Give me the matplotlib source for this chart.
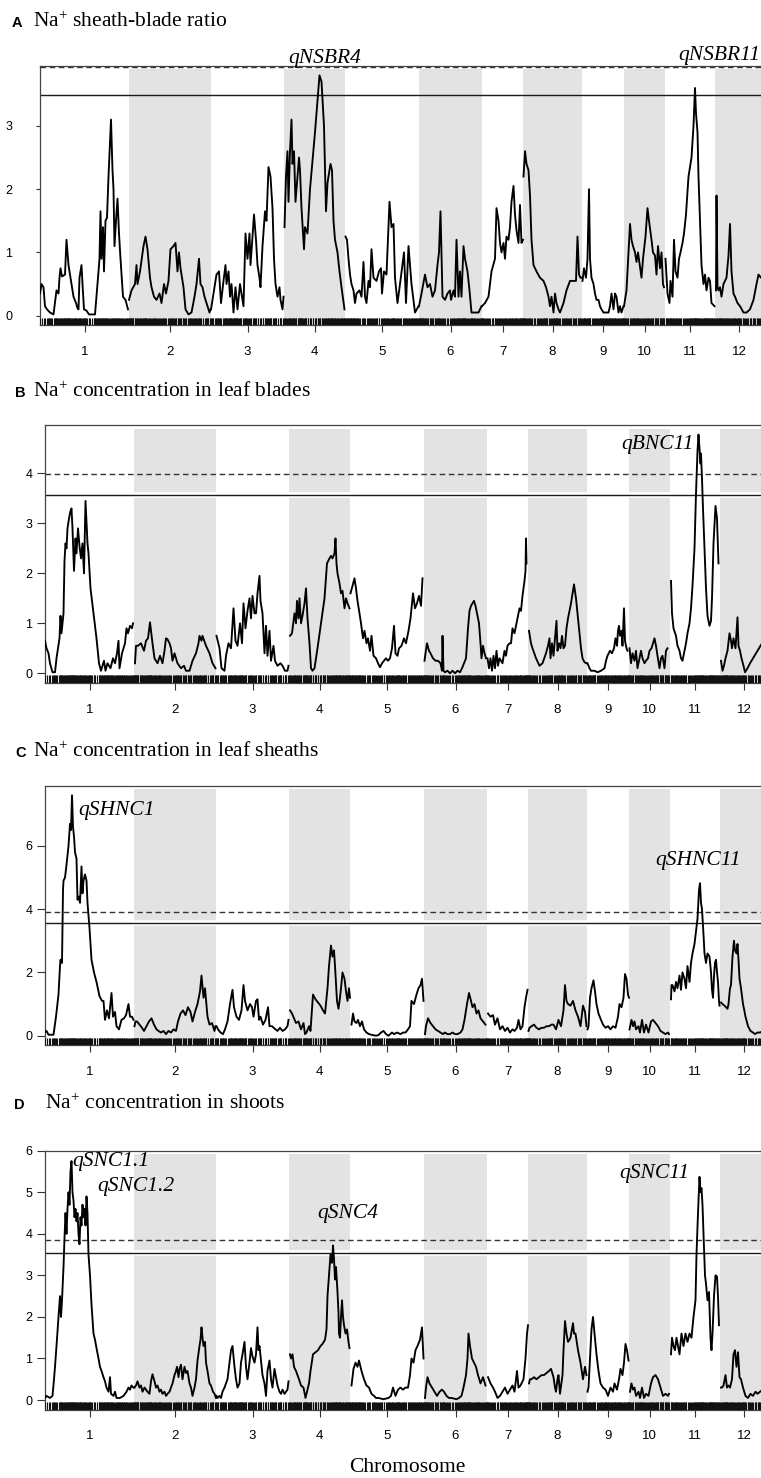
import numpy as np
import matplotlib.pyplot as plt

plt.rcParams['font.family'] = ['Liberation Sans', 'DejaVu Sans']
plt.rcParams['mathtext.fontset'] = 'custom'
plt.rcParams['mathtext.rm'] = 'Liberation Serif'
plt.rcParams['mathtext.it'] = 'Liberation Serif:italic'

chromosomes = [str(i) for i in range(1, 13)]
chrom_len = [178, 164, 146, 122, 148, 126, 82, 118, 84, 82, 100, 96]  # cM

# LOD profiles: one list of (cM, LOD) per chromosome
# A  Na+ sheath-blade ratio
sbr_lod = [
    [(0, 0.35), (3, 0.5), (7, 0.45), (10, 0.15), (14, 0.1), (20, 0.05), (27, 0.02), (33, 0.4), (37, 0.35), (39, 0.6),
     (41, 0.75), (44, 0.62), (50, 0.65), (53, 1.2), (57, 0.8), (60, 0.65), (63, 0.5), (67, 0.3), (72, 0.2), (75, 0.12),
     (77, 0.1), (79, 0.6), (83, 0.8), (85, 0.5), (88, 0.1), (93, 0.08), (98, 0.02), (110, 0.02), (116, 0.6), (119, 0.9),
     (121, 1.65), (123, 0.9), (126, 1.4), (128, 0.7), (131, 1.5), (134, 1.55), (137, 2.2), (142, 3.1), (145, 2.3),
     (147, 2.0), (149, 1.1), (152, 1.5), (155, 1.85), (158, 1.3), (161, 0.9), (166, 0.3), (171, 0.25), (176, 0.1)],
    [(0, 0.25), (5, 0.4), (12, 0.5), (15, 0.8), (17, 0.5), (22, 0.7), (29, 1.1), (33, 1.25), (37, 1.05), (42, 0.6),
     (45, 0.45), (50, 0.3), (55, 0.25), (61, 0.35), (65, 0.2), (70, 0.5), (74, 0.35), (79, 0.55), (83, 1.05), (89, 1.1),
     (93, 1.15), (97, 0.7), (100, 1.0), (103, 0.75), (109, 0.45), (113, 0.1), (119, 0.02), (125, 0.05), (131, 0.3),
     (135, 0.5), (140, 0.9), (143, 0.5), (147, 0.45), (151, 0.3), (155, 0.2), (161, 0.05), (163, 0.1)],
    [(0, 0.1), (11, 0.65), (16, 0.7), (20, 0.2), (25, 0.55), (29, 0.8), (31, 0.5), (35, 0.7), (38, 0.3), (41, 0.5),
     (45, 0.05), (49, 0.45), (53, 0.1), (58, 0.5), (65, 0.15), (69, 1.3), (73, 0.9), (77, 1.3), (79, 0.8), (83, 1.25),
     (86, 1.6), (90, 1.2), (93, 0.8), (97, 0.6), (99, 0.45), (103, 1.1), (108, 1.65), (111, 1.5), (115, 2.35),
     (119, 2.2), (123, 1.7), (126, 0.9), (129, 0.5), (133, 0.3), (137, 0.45), (139, 0.25), (143, 0.1), (145, 0.3)],
    [(1, 1.4), (4, 2.2), (7, 2.6), (9, 1.8), (12, 2.6), (15, 3.1), (17, 2.4), (20, 2.6), (23, 1.8), (27, 2.2),
     (30, 2.5), (32, 2.3), (35, 1.7), (40, 1.05), (42, 1.4), (47, 1.3), (52, 2.0), (62, 2.9), (69, 3.6), (71, 3.8),
     (75, 3.7), (80, 3.0), (84, 1.65), (87, 2.1), (91, 2.3), (93, 2.4), (96, 2.3), (99, 1.5), (102, 1.2), (107, 1.0),
     (111, 0.7), (115, 0.45), (121, 0.1)],
    [(1, 1.25), (4, 1.2), (7, 0.9), (10, 0.65), (13, 0.5), (17, 0.4), (20, 0.2), (23, 0.35), (29, 0.4), (33, 0.3),
     (37, 0.85), (40, 0.3), (43, 0.2), (47, 0.55), (50, 0.45), (53, 1.05), (57, 0.6), (63, 0.55), (68, 0.7),
     (72, 0.75), (74, 0.35), (78, 0.7), (83, 0.65), (89, 1.8), (93, 1.4), (97, 1.45), (100, 0.6), (105, 0.2),
     (110, 0.5), (118, 1.0), (122, 0.2), (127, 1.1), (133, 0.5), (140, 0.05), (147, 0.15)],
    [(0, 0.15), (5, 0.35), (12, 0.65), (17, 0.45), (22, 0.5), (27, 0.3), (32, 0.4), (37, 0.8), (40, 1.0), (43, 1.65),
     (47, 0.3), (52, 0.25), (57, 0.35), (62, 0.4), (64, 0.25), (69, 0.4), (72, 0.3), (75, 1.2), (79, 0.3), (82, 0.7),
     (85, 0.3), (89, 1.1), (92, 0.9), (97, 0.7), (101, 0.4), (105, 0.05), (112, 0.05), (119, 0.05), (125, 0.15)],
    [(0, 0.15), (6, 0.2), (13, 0.3), (19, 0.7), (26, 0.9), (29, 1.7), (33, 1.5), (36, 1.15), (39, 1.0), (43, 1.15),
     (46, 0.9), (49, 1.25), (53, 1.2), (56, 1.4), (59, 1.8), (63, 2.05), (66, 1.6), (69, 1.35), (73, 1.15),
     (76, 1.75), (79, 1.15), (82, 1.2)],
    [(1, 2.2), (4, 2.6), (7, 2.4), (11, 2.3), (14, 1.9), (17, 1.2), (21, 0.8), (27, 0.7), (34, 0.6), (41, 0.55),
     (46, 0.45), (51, 0.3), (54, 0.15), (57, 0.3), (61, 0.05), (64, 0.35), (67, 0.2), (71, 0.1), (74, 0.05),
     (81, 0.2), (87, 0.4), (94, 0.55), (101, 0.55), (106, 0.55), (109, 1.25), (112, 0.65), (115, 0.6), (117, 0.6)],
    [(1, 0.55), (4, 0.75), (8, 0.6), (11, 0.9), (14, 2.0), (16, 0.9), (19, 0.6), (23, 0.5), (26, 0.35), (29, 0.25),
     (33, 0.25), (36, 0.15), (39, 0.1), (43, 0.05), (48, 0.05), (53, 0.05), (56, 0.15), (59, 0.35), (63, 0.1),
     (66, 0.35), (69, 0.3), (73, 0.05), (76, 0.15), (79, 0.05), (83, 0.15)],
    [(0, 0.15), (5, 0.4), (12, 1.45), (15, 1.2), (18, 1.1), (22, 1.0), (25, 0.85), (28, 1.0), (35, 0.6), (38, 0.9),
     (43, 1.25), (47, 1.7), (50, 1.5), (55, 1.2), (58, 1.0), (62, 0.95), (65, 0.65), (68, 1.1), (72, 0.75),
     (75, 1.0), (78, 0.5), (80, 0.45)],
    [(1, 0.9), (5, 0.35), (9, 0.2), (11, 0.55), (15, 0.3), (18, 1.2), (21, 0.7), (25, 0.6), (28, 0.9), (31, 1.0),
     (35, 1.15), (38, 1.3), (42, 1.6), (47, 2.2), (50, 2.35), (53, 2.5), (57, 3.0), (60, 3.6), (62, 3.2), (65, 2.9),
     (67, 2.2), (70, 1.5), (73, 0.8), (77, 0.5), (80, 0.65), (83, 0.4), (87, 0.6), (90, 0.55), (93, 0.2), (99, 0.15)],
    [(2, 0.4), (3, 1.9), (5, 0.45), (7, 0.4), (10, 0.45), (13, 0.3), (17, 0.5), (23, 0.6), (27, 0.95), (30, 1.45),
     (33, 0.7), (37, 0.35), (40, 0.3), (45, 0.2), (50, 0.15), (57, 0.05), (63, 0.05), (70, 0.1), (77, 0.25),
     (83, 0.5), (87, 0.65), (92, 0.6), (95, 0.65)],
]

# B  Na+ concentration in leaf blades
bnc_lod = [
    [(0, 0.65), (3, 0.5), (7, 0.4), (10, 0.2), (15, 0.02), (20, 0.02), (23, 0.3), (29, 0.7), (31, 1.15), (33, 0.8),
     (37, 1.2), (39, 2.25), (41, 2.6), (43, 2.5), (45, 2.9), (48, 3.1), (51, 3.25), (53, 3.3), (55, 2.9), (58, 2.05),
     (61, 2.7), (63, 2.4), (66, 2.9), (69, 2.55), (72, 2.3), (75, 2.6), (78, 2.0), (81, 3.45), (85, 2.6), (87, 2.4),
     (91, 1.7), (97, 1.2), (103, 0.7), (108, 0.2), (112, 0.05), (118, 0.25), (121, 0.05), (125, 0.2), (131, 0.1),
     (136, 0.3), (140, 0.2), (144, 0.4), (147, 0.65), (149, 0.1), (154, 0.4), (160, 0.6), (163, 0.9), (166, 0.8),
     (170, 0.95), (174, 0.9), (176, 1.0)],
    [(2, 0.2), (4, 0.55), (8, 0.55), (14, 0.6), (20, 0.45), (24, 0.65), (28, 0.7), (32, 1.02), (37, 0.6), (41, 0.3),
     (44, 0.25), (47, 0.2), (52, 0.35), (57, 0.2), (61, 0.45), (64, 0.7), (67, 0.68), (71, 0.6), (74, 0.5),
     (77, 0.25), (81, 0.4), (87, 0.2), (94, 0.1), (100, 0.15), (104, 0.05), (111, 0.05), (117, 0.25), (124, 0.4),
     (129, 0.6), (131, 0.75), (135, 0.65), (137, 0.75), (144, 0.55), (151, 0.4), (157, 0.2), (163, 0.1)],
    [(1, 0.75), (7, 0.5), (11, 0.1), (17, 0.05), (20, 0.35), (25, 0.6), (30, 0.5), (35, 1.3), (39, 0.65), (43, 0.55),
     (48, 1.0), (52, 0.6), (55, 1.4), (59, 0.9), (63, 1.25), (67, 1.5), (70, 1.1), (73, 1.55), (77, 1.2), (80, 1.2),
     (83, 1.6), (87, 1.95), (89, 1.45), (93, 1.2), (97, 0.4), (100, 0.95), (103, 0.35), (107, 0.85), (110, 0.25),
     (115, 0.55), (118, 0.25), (123, 0.15), (129, 0.2), (133, 0.15), (138, 0.05), (143, 0.05), (145, 0.15)],
    [(2, 0.75), (6, 0.8), (11, 1.2), (14, 1.0), (16, 1.45), (19, 1.1), (21, 1.5), (24, 1.0), (27, 1.15), (31, 1.4),
     (34, 1.7), (37, 1.1), (41, 0.6), (44, 0.1), (47, 0.05), (51, 0.1), (57, 0.5), (64, 1.0), (71, 1.5), (76, 2.2),
     (81, 2.3), (84, 2.35), (87, 2.3), (91, 2.4), (93, 2.7), (95, 2.2), (97, 2.0), (101, 1.8), (104, 1.6),
     (107, 1.65), (111, 1.3), (114, 1.5), (117, 1.4), (121, 1.3)],
    [(1, 1.6), (5, 1.75), (9, 1.9), (12, 1.7), (15, 1.45), (19, 1.2), (22, 1.0), (26, 0.7), (29, 0.85), (33, 0.6),
     (36, 0.7), (40, 0.45), (43, 0.75), (47, 0.35), (52, 0.3), (56, 0.2), (60, 0.12), (64, 0.2), (68, 0.25),
     (72, 0.3), (76, 0.25), (80, 0.3), (84, 0.5), (88, 0.95), (91, 0.4), (95, 0.35), (98, 0.5), (103, 0.55),
     (108, 0.7), (112, 0.6), (117, 0.85), (121, 1.1), (126, 1.6), (130, 1.3), (134, 1.4), (138, 1.55), (142, 1.35),
     (145, 1.9)],
    [(1, 0.25), (3, 0.4), (6, 0.6), (10, 0.45), (13, 0.4), (18, 0.3), (23, 0.25), (28, 0.25), (33, 0.2), (36, 0.05),
     (37, 0.75), (39, 0.05), (42, 0.02), (47, 0.05), (52, 0.0), (57, 0.05), (62, 0.0), (67, 0.05), (72, 0.02),
     (76, 0.1), (80, 0.2), (84, 0.3), (88, 0.9), (91, 1.25), (94, 1.35), (97, 1.4), (100, 1.45), (103, 1.35),
     (106, 1.2), (110, 1.0), (113, 0.6), (115, 0.3), (118, 0.55), (121, 0.4), (124, 0.3)],
    [(1, 0.3), (4, 0.1), (7, 0.3), (10, 0.05), (13, 0.35), (16, 0.1), (19, 0.45), (22, 0.15), (25, 0.3), (28, 0.25),
     (31, 0.2), (35, 0.45), (38, 0.35), (41, 0.55), (45, 0.6), (48, 0.6), (51, 0.9), (55, 0.8), (58, 0.95),
     (61, 1.1), (65, 1.3), (68, 1.25), (71, 1.55), (75, 1.85), (77, 2.05), (78, 2.7), (79, 2.2)],
    [(2, 0.85), (6, 0.6), (9, 0.5), (16, 0.3), (23, 0.15), (29, 0.2), (36, 0.4), (40, 0.55), (43, 0.7), (45, 0.3),
     (48, 0.6), (51, 0.35), (54, 0.7), (57, 1.05), (59, 0.45), (62, 0.6), (65, 0.5), (68, 0.75), (71, 0.5),
     (74, 0.55), (77, 0.9), (80, 1.1), (86, 1.4), (92, 1.78), (96, 1.5), (99, 1.2), (103, 0.8), (106, 0.5),
     (109, 0.3), (113, 0.22), (117, 0.2)],
    [(1, 0.2), (5, 0.1), (8, 0.05), (15, 0.05), (21, 0.02), (28, 0.05), (35, 0.1), (38, 0.25), (41, 0.35),
     (46, 0.45), (50, 0.4), (54, 0.5), (57, 0.7), (60, 0.55), (62, 0.85), (64, 0.95), (66, 0.75), (69, 0.85),
     (71, 0.55), (74, 1.3), (76, 0.65), (79, 0.5), (81, 0.45)],
    [(1, 0.5), (4, 0.2), (7, 0.4), (11, 0.25), (14, 0.45), (17, 0.1), (21, 0.3), (24, 0.45), (27, 0.3), (31, 0.2),
     (34, 0.25), (38, 0.3), (41, 0.45), (45, 0.5), (48, 0.6), (51, 0.7), (54, 0.55), (57, 0.35), (61, 0.1),
     (64, 0.3), (67, 0.35), (71, 0.1), (74, 0.45), (77, 0.5)],
    [(2, 1.85), (4, 1.2), (7, 0.9), (12, 0.75), (15, 0.55), (19, 0.45), (22, 0.3), (25, 0.25), (29, 0.45), (32, 0.6),
     (35, 0.8), (39, 1.0), (42, 1.3), (45, 1.75), (49, 2.5), (52, 3.6), (55, 4.45), (57, 4.78), (59, 4.5), (61, 4.2),
     (62, 4.4), (64, 3.9), (66, 3.3), (69, 2.5), (72, 1.7), (75, 1.15), (79, 0.95), (82, 1.05), (84, 1.5),
     (87, 2.6), (91, 3.35), (94, 3.1), (97, 2.2)],
    [(2, 0.25), (5, 0.05), (8, 0.15), (11, 0.3), (15, 0.45), (19, 0.8), (22, 0.65), (24, 0.5), (27, 0.7), (31, 0.5),
     (35, 1.12), (37, 0.55), (40, 0.45), (43, 0.3), (47, 0.15), (50, 0.02), (55, 0.1), (60, 0.2), (66, 0.3),
     (72, 0.4), (78, 0.5), (84, 0.6), (90, 0.75), (95, 0.8)],
]

# C  Na+ concentration in leaf sheaths
shnc_lod = [
    [(0, 0.12), (3, 0.15), (7, 0.03), (17, 0.03), (22, 0.6), (27, 1.3), (30, 2.2), (31, 2.4), (34, 2.3), (36, 4.6),
     (37, 4.9), (40, 5.0), (43, 5.4), (47, 6.0), (50, 6.7), (52, 6.5), (54, 7.6), (56, 6.6), (58, 6.3), (60, 5.8),
     (63, 5.6), (65, 4.3), (67, 4.4), (70, 4.2), (73, 5.35), (75, 4.5), (77, 4.9), (80, 5.1), (83, 4.9), (85, 4.2),
     (89, 3.4), (93, 2.4), (98, 2.0), (103, 1.7), (109, 1.25), (114, 1.1), (117, 1.1), (120, 0.5), (124, 0.8),
     (128, 0.55), (133, 1.35), (136, 0.6), (140, 0.75), (143, 0.3), (148, 0.2), (153, 0.5), (158, 0.55),
     (162, 0.65), (167, 1.0), (170, 0.6), (174, 0.6), (177, 0.5)],
    [(1, 0.3), (3, 0.45), (6, 0.45), (11, 0.35), (16, 0.25), (20, 0.15), (25, 0.3), (30, 0.45), (35, 0.55),
     (40, 0.35), (45, 0.2), (49, 0.15), (54, 0.1), (59, 0.15), (64, 0.05), (69, 0.15), (74, 0.1), (79, 0.2),
     (84, 0.15), (88, 0.45), (93, 0.7), (98, 0.8), (103, 0.65), (108, 0.9), (113, 0.75), (117, 0.45), (122, 0.75),
     (127, 1.0), (132, 1.4), (135, 1.9), (139, 1.2), (142, 1.5), (147, 0.6), (151, 0.35), (156, 0.4), (161, 0.15),
     (163, 0.3)],
    [(1, 0.3), (4, 0.2), (9, 0.1), (14, 0.05), (18, 0.2), (23, 0.45), (28, 1.0), (33, 1.45), (36, 0.9), (41, 0.6),
     (46, 0.5), (51, 0.8), (55, 1.6), (58, 1.1), (63, 0.8), (68, 1.0), (72, 0.9), (75, 0.6), (80, 1.1), (83, 1.15),
     (86, 0.5), (89, 0.6), (94, 0.35), (99, 0.5), (104, 0.9), (107, 0.3), (112, 0.3), (119, 0.2), (123, 0.15),
     (128, 0.25), (133, 0.15), (138, 0.2), (143, 0.3), (145, 0.5)],
    [(2, 0.8), (6, 0.7), (10, 0.55), (14, 0.4), (19, 0.45), (24, 0.2), (29, 0.4), (32, 0.05), (35, 0.1), (40, 0.3),
     (43, 0.15), (48, 1.3), (53, 1.15), (58, 1.05), (63, 0.95), (68, 0.8), (72, 0.7), (77, 1.5), (80, 2.2),
     (84, 2.85), (87, 2.5), (90, 2.7), (92, 2.2), (96, 1.1), (99, 0.85), (102, 1.2), (104, 1.5), (107, 2.0),
     (111, 1.8), (114, 1.4), (117, 1.1), (120, 1.5), (122, 1.2)],
    [(3, 0.35), (6, 0.7), (9, 0.45), (13, 0.4), (16, 0.5), (20, 0.3), (24, 0.45), (28, 0.2), (33, 0.1), (38, 0.05),
     (45, 0.02), (52, 0.0), (57, 0.02), (62, 0.1), (67, 0.15), (72, 0.05), (77, 0.0), (84, 0.1), (88, 0.05),
     (94, 0.1), (101, 0.05), (106, 0.1), (111, 0.1), (116, 0.2), (120, 0.3), (123, 1.1), (128, 1.0), (133, 1.3),
     (137, 1.5), (141, 1.6), (144, 1.8), (147, 1.1)],
    [(2, 0.05), (4, 0.3), (8, 0.55), (13, 0.4), (18, 0.3), (23, 0.2), (28, 0.15), (33, 0.1), (38, 0.05), (42, 0.1),
     (47, 0.05), (52, 0.05), (57, 0.1), (62, 0.05), (67, 0.05), (73, 0.1), (77, 0.2), (81, 0.5), (86, 1.0),
     (90, 1.35), (94, 1.1), (97, 0.9), (101, 1.0), (105, 0.7), (109, 0.8), (113, 0.55), (118, 0.45), (123, 0.35)],
    [(2, 0.7), (7, 0.6), (12, 0.65), (16, 0.35), (21, 0.55), (26, 0.2), (31, 0.3), (36, 0.15), (41, 0.25),
     (46, 0.1), (51, 0.2), (55, 0.15), (60, 0.25), (63, 0.5), (67, 0.2), (71, 0.3), (75, 0.9), (78, 1.2), (81, 1.45)],
    [(1, 0.15), (3, 0.25), (7, 0.3), (12, 0.35), (17, 0.25), (22, 0.2), (27, 0.25), (32, 0.25), (37, 0.3),
     (42, 0.3), (47, 0.35), (51, 0.35), (56, 0.2), (61, 0.5), (66, 0.3), (71, 0.8), (74, 1.6), (77, 1.1), (80, 1.0),
     (85, 0.95), (90, 1.1), (95, 0.8), (100, 0.6), (105, 0.3), (110, 0.95), (114, 0.75), (117, 0.3)],
    [(1, 0.2), (3, 0.3), (6, 1.2), (9, 1.5), (13, 1.75), (16, 1.4), (19, 1.0), (23, 0.7), (28, 0.5), (32, 0.35),
     (37, 0.25), (42, 0.3), (47, 0.2), (52, 0.3), (57, 0.25), (62, 0.6), (65, 1.0), (69, 0.9), (73, 1.2), (76, 1.95),
     (79, 1.8), (82, 1.3), (84, 1.2)],
    [(1, 0.2), (5, 0.5), (8, 0.3), (11, 0.45), (14, 0.2), (19, 0.3), (22, 0.1), (26, 0.5), (30, 0.1), (34, 0.35),
     (39, 0.1), (44, 0.45), (48, 0.5), (53, 0.4), (58, 0.3), (63, 0.15), (68, 0.1), (73, 0.05), (78, 0.1),
     (80, 0.05)],
    [(2, 1.15), (3, 1.6), (5, 1.6), (9, 1.4), (12, 1.7), (15, 1.5), (19, 1.9), (22, 1.45), (25, 2.0), (29, 1.8),
     (32, 1.5), (35, 2.2), (39, 1.7), (42, 2.3), (45, 2.6), (49, 2.9), (52, 3.3), (55, 3.7), (58, 4.6), (60, 4.82),
     (62, 4.2), (64, 4.0), (67, 3.2), (69, 2.6), (72, 2.3), (75, 2.6), (79, 2.5), (82, 2.0), (84, 1.45), (86, 1.2),
     (88, 1.9), (90, 2.3), (92, 2.4), (94, 2.0), (96, 1.7), (98, 1.1), (99, 0.95)],
    [(2, 1.05), (5, 1.0), (9, 0.95), (12, 0.9), (15, 0.85), (17, 1.0), (20, 1.5), (22, 1.6), (25, 2.5), (28, 3.0),
     (30, 2.7), (33, 2.6), (35, 2.9), (37, 2.4), (39, 1.8), (42, 1.5), (46, 1.0), (48, 0.85), (51, 0.6), (56, 0.3),
     (61, 0.15), (66, 0.1), (70, 0.05), (75, 0.1), (80, 0.1), (86, 0.15), (92, 0.1)],
]

# D  Na+ concentration in shoots
snc_lod = [
    [(0, 0.05), (3, 0.1), (10, 0.05), (15, 0.1), (18, 0.5), (20, 0.8), (23, 1.3), (27, 2.0), (30, 2.5), (32, 2.0),
     (34, 2.4), (37, 3.2), (39, 3.9), (41, 4.5), (43, 4.0), (45, 4.6), (47, 5.0), (49, 4.7), (51, 5.5), (53, 5.75),
     (55, 5.0), (57, 4.8), (59, 4.4), (61, 4.6), (63, 4.3), (65, 4.5), (67, 4.0), (69, 3.75), (71, 4.4), (73, 4.2),
     (75, 4.7), (77, 4.4), (79, 4.6), (81, 4.2), (83, 4.9), (85, 4.5), (87, 3.5), (90, 3.0), (93, 2.3), (97, 1.6),
     (100, 1.45), (103, 1.25), (107, 1.0), (110, 0.8), (113, 0.7), (117, 0.55), (120, 0.45), (123, 0.3),
     (127, 0.2), (130, 0.55), (132, 0.15), (137, 0.1), (140, 0.2), (143, 0.05), (150, 0.05), (157, 0.1),
     (163, 0.2), (167, 0.3), (170, 0.25), (173, 0.35), (177, 0.3)],
    [(1, 0.3), (4, 0.35), (7, 0.45), (11, 0.3), (14, 0.35), (17, 0.2), (21, 0.3), (27, 0.2), (31, 0.15), (34, 0.45),
     (37, 0.62), (41, 0.45), (44, 0.3), (47, 0.35), (51, 0.2), (54, 0.25), (57, 0.15), (61, 0.2), (64, 0.1),
     (67, 0.15), (71, 0.2), (74, 0.3), (77, 0.4), (81, 0.6), (84, 0.7), (86, 0.8), (89, 0.55), (91, 0.75),
     (94, 0.85), (97, 0.5), (101, 0.8), (104, 0.65), (107, 0.7), (111, 0.4), (114, 0.3), (117, 0.1), (121, 0.3),
     (124, 0.5), (127, 0.95), (131, 1.3), (133, 1.45), (135, 1.75), (137, 1.5), (139, 1.3), (142, 1.4), (144, 0.9),
     (147, 0.7), (151, 0.4), (154, 0.35), (158, 0.2), (161, 0.15), (164, 0.05)],
    [(1, 0.1), (3, 0.05), (7, 0.1), (10, 0.05), (13, 0.2), (17, 0.3), (20, 0.4), (23, 0.5), (27, 0.9), (30, 1.2),
     (33, 1.3), (37, 0.8), (40, 0.5), (43, 0.3), (47, 0.4), (50, 0.9), (53, 1.1), (57, 1.4), (60, 0.8), (63, 0.5),
     (67, 0.9), (70, 1.25), (73, 1.05), (77, 0.9), (80, 1.1), (83, 1.75), (85, 1.2), (87, 1.3), (90, 0.95),
     (93, 0.6), (97, 0.4), (100, 0.1), (103, 0.7), (107, 0.95), (110, 0.5), (113, 0.3), (117, 0.75), (120, 0.55),
     (123, 0.35), (127, 0.2), (130, 0.15), (133, 0.25), (137, 0.15), (140, 0.2), (143, 0.25), (145, 0.45)],
    [(2, 1.1), (4, 1.0), (7, 1.1), (10, 0.8), (14, 0.7), (17, 0.6), (20, 0.5), (24, 0.35), (29, 0.3), (33, 0.05),
     (36, 0.2), (40, 0.4), (43, 0.7), (48, 1.1), (53, 1.15), (58, 1.2), (63, 1.3), (67, 1.35), (72, 1.45),
     (75, 1.7), (77, 2.5), (80, 3.0), (83, 3.5), (86, 3.3), (88, 3.72), (90, 3.4), (92, 2.9), (94, 3.2), (97, 2.6),
     (99, 2.1), (100, 1.6), (102, 1.5), (104, 2.0), (106, 2.4), (108, 2.0), (110, 1.8), (113, 1.6), (116, 1.7),
     (119, 1.4), (121, 1.25)],
    [(3, 0.35), (7, 0.75), (11, 0.9), (15, 0.8), (18, 0.95), (23, 0.7), (28, 0.5), (33, 0.35), (38, 0.3),
     (43, 0.15), (48, 0.1), (52, 0.05), (57, 0.05), (67, 0.02), (77, 0.05), (82, 0.1), (86, 0.3), (91, 0.1),
     (96, 0.25), (101, 0.3), (106, 0.25), (111, 0.3), (116, 0.3), (120, 0.6), (123, 1.0), (127, 0.9), (131, 1.2),
     (135, 1.3), (140, 1.45), (144, 1.75), (147, 1.0)],
    [(2, 0.05), (4, 0.3), (7, 0.55), (11, 0.4), (16, 0.3), (21, 0.2), (26, 0.1), (31, 0.2), (36, 0.25), (40, 0.2),
     (45, 0.1), (50, 0.05), (55, 0.05), (65, 0.02), (70, 0.05), (75, 0.1), (79, 0.3), (84, 0.6), (87, 1.0),
     (89, 1.6), (92, 1.3), (96, 1.0), (100, 0.9), (104, 0.8), (108, 0.6), (113, 0.4), (118, 0.55), (123, 0.35)],
    [(2, 0.55), (7, 0.4), (12, 0.3), (16, 0.2), (21, 0.05), (26, 0.1), (31, 0.2), (36, 0.3), (41, 0.15), (46, 0.25),
     (51, 0.35), (55, 0.2), (60, 0.7), (63, 0.3), (67, 0.35), (73, 0.5), (77, 1.0), (80, 1.6), (82, 1.8)],
    [(2, 0.4), (4, 0.5), (7, 0.5), (12, 0.55), (17, 0.5), (22, 0.55), (27, 0.6), (32, 0.6), (37, 0.65), (42, 0.7),
     (46, 0.75), (51, 0.55), (54, 0.3), (56, 0.2), (59, 0.5), (61, 0.6), (64, 0.15), (69, 0.6), (71, 1.2),
     (74, 1.9), (77, 1.6), (80, 1.4), (83, 1.45), (85, 1.5), (90, 1.85), (92, 1.6), (95, 1.6), (100, 1.2),
     (105, 0.9), (110, 0.5), (114, 0.8), (117, 0.6)],
    [(1, 0.2), (3, 0.3), (6, 1.0), (9, 1.7), (12, 2.0), (15, 1.6), (19, 1.1), (23, 0.7), (27, 0.4), (32, 0.3),
     (37, 0.25), (42, 0.1), (47, 0.3), (52, 0.2), (55, 0.4), (60, 0.25), (64, 0.5), (67, 0.75), (71, 0.6), (74, 0.9),
     (77, 1.35), (80, 1.2), (83, 0.95)],
    [(2, 0.2), (5, 0.4), (8, 0.25), (11, 0.3), (14, 0.1), (19, 0.2), (22, 0.05), (26, 0.3), (30, 0.05), (34, 0.15),
     (39, 0.1), (44, 0.4), (48, 0.55), (53, 0.6), (58, 0.5), (63, 0.3), (68, 0.1), (73, 0.15), (78, 0.1),
     (80, 0.15)],
    [(2, 1.1), (4, 1.5), (7, 1.3), (10, 1.2), (13, 1.5), (16, 1.3), (19, 1.1), (23, 1.6), (27, 1.3), (31, 1.6),
     (35, 1.4), (39, 1.6), (43, 1.5), (47, 2.0), (51, 2.4), (53, 3.5), (56, 4.5), (59, 5.37), (61, 5.0), (63, 5.1),
     (65, 4.7), (67, 4.0), (70, 3.0), (72, 2.8), (75, 2.4), (78, 2.6), (81, 1.5), (83, 1.2), (85, 1.6), (88, 2.5),
     (91, 3.0), (94, 2.97), (96, 2.5), (98, 1.8)],
    [(2, 0.3), (4, 0.3), (7, 0.35), (11, 0.6), (14, 0.3), (17, 0.35), (20, 0.3), (24, 0.5), (27, 1.1), (30, 1.2),
     (33, 0.8), (36, 1.15), (39, 0.55), (42, 0.5), (46, 0.3), (51, 0.1), (56, 0.05), (61, 0.15), (66, 0.1),
     (71, 0.2), (75, 0.15), (80, 0.2), (86, 0.25), (92, 0.2)],
]

# LOD thresholds (solid, dashed)
sbr_thr = (3.49, 3.93)
bnc_thr = (3.56, 3.99)
shnc_thr = (3.56, 3.92)
snc_thr = (3.545, 3.85)

# QTL names: (label, chromosome index, cM, LOD, alignment)
sbr_qtl = [('qNSBR4', 3, 82, 3.99, 'center'), ('qNSBR11', 11, 90, 4.04, 'right')]
bnc_qtl = [('qBNC11', 10, 48, 4.5, 'right')]
shnc_qtl = [('qSHNC1', 0, 66, 6.98, 'left'), ('qSHNC11', 10, 56, 5.4, 'center')]
snc_qtl = [('qSNC1.1', 0, 54, 5.63, 'left'), ('qSNC1.2', 0, 104, 5.03, 'left'),
           ('qSNC4', 3, 118, 4.38, 'center'), ('qSNC11', 10, 38, 5.34, 'right')]

titles = ['Na$^{+}$ sheath-blade ratio', 'Na$^{+}$ concentration in leaf blades',
          'Na$^{+}$ concentration in leaf sheaths', 'Na$^{+}$ concentration in shoots']
letters = ['A', 'B', 'C', 'D']
yticks = [[0, 1, 2, 3], [0, 1, 2, 3, 4], [0, 2, 4, 6], [0, 1, 2, 3, 4, 5, 6]]

W, H = 761, 1478
fig = plt.figure(figsize=(W / 100, H / 100), dpi=100)

starts = np.concatenate([[0], np.cumsum(chrom_len)[:-1]])
centers = starts + np.array(chrom_len) / 2

# marker positions for the rug: every position where a profile was evaluated
rug = sorted({starts[i] + p for curves in (sbr_lod, bnc_lod, shnc_lod, snc_lod)
              for i, c in enumerate(curves) for p, _ in c})


def px_axes(left, top, width, height):
    return fig.add_axes([left / W, 1 - (top + height) / H, width / W, height / H])


def draw_panel(ax, curves, thr, ticks, qtls, white_gap, ytick_len, ytick_pad):
    top = max(v for c in curves for _, v in c)
    ax.set_xlim(0, sum(chrom_len))
    ax.set_ylim(-0.04 * top, 1.04 * top)
    for i in range(1, 12, 2):
        ax.axvspan(starts[i], starts[i] + chrom_len[i], ymin=0, ymax=0.986,
                   color='#e3e3e3', lw=0, zorder=0)
    if white_gap:
        ax.axhline(thr[0], color='white', lw=4.0, zorder=1)
    ax.axhline(thr[0], color='#1a1a1a', lw=1.0, zorder=2)
    ax.axhline(thr[1], color='#333333', lw=1.0, ls=(0, (4, 2.6)), zorder=2)
    for s, c in zip(starts, curves):
        pos, lod = np.array(c).T
        ax.plot(s + pos, lod, color='black', lw=1.35, zorder=3)
    ax.vlines(rug, 0, 0.03, transform=ax.get_xaxis_transform(), colors='#111111', lw=0.8, zorder=4)
    for name, ci, cm, y, ha in qtls:
        ax.text(starts[ci] + cm, y, name, ha=ha, va='baseline', fontsize=15.5, style='italic',
                family='Liberation Serif', zorder=5)
    ax.set_xticks(centers, chromosomes)
    ax.set_yticks(ticks)
    ax.tick_params(axis='x', length=5, width=0.8, pad=10, labelsize=9.5, color='#333333')
    ax.tick_params(axis='y', length=ytick_len, width=0.8, pad=ytick_pad, labelsize=9, color='#333333')
    for side in ['left', 'top', 'bottom']:
        ax.spines[side].set_color('#444444')
        ax.spines[side].set_linewidth(0.9)
    ax.spines['right'].set_visible(False)


ax_a = px_axes(40, 65.7, 723, 259.6)
ax_b = px_axes(45, 425, 723, 257.8)
ax_c = px_axes(45, 785.7, 723, 259.6)
ax_d = px_axes(45, 1150.7, 723, 258.9)

draw_panel(ax_a, sbr_lod, sbr_thr, yticks[0], sbr_qtl, False, 3, 17)
draw_panel(ax_b, bnc_lod, bnc_thr, yticks[1], bnc_qtl, True, 5.5, 3.5)
draw_panel(ax_c, shnc_lod, shnc_thr, yticks[2], shnc_qtl, True, 5.5, 3.5)
draw_panel(ax_d, snc_lod, snc_thr, yticks[3], snc_qtl, True, 5.5, 3.5)

# panel headings
head = [(12, 27, 33), (15, 397, 33), (15, 757, 33), (14, 1109, 45)]
for (lx, by, tx), letter, title in zip(head, letters, titles):
    fig.text(lx / W, 1 - by / H, letter, fontsize=10.5, fontweight='bold', va='baseline')
    fig.text(tx / W, 1 - by / H, title, fontsize=15.5, family='Liberation Serif', va='baseline')

fig.text(407 / W, 1 - 1467 / H, 'Chromosome', ha='center', va='center', fontsize=15.5,
         family='Liberation Serif')

fig.savefig('out.png', dpi=100)
